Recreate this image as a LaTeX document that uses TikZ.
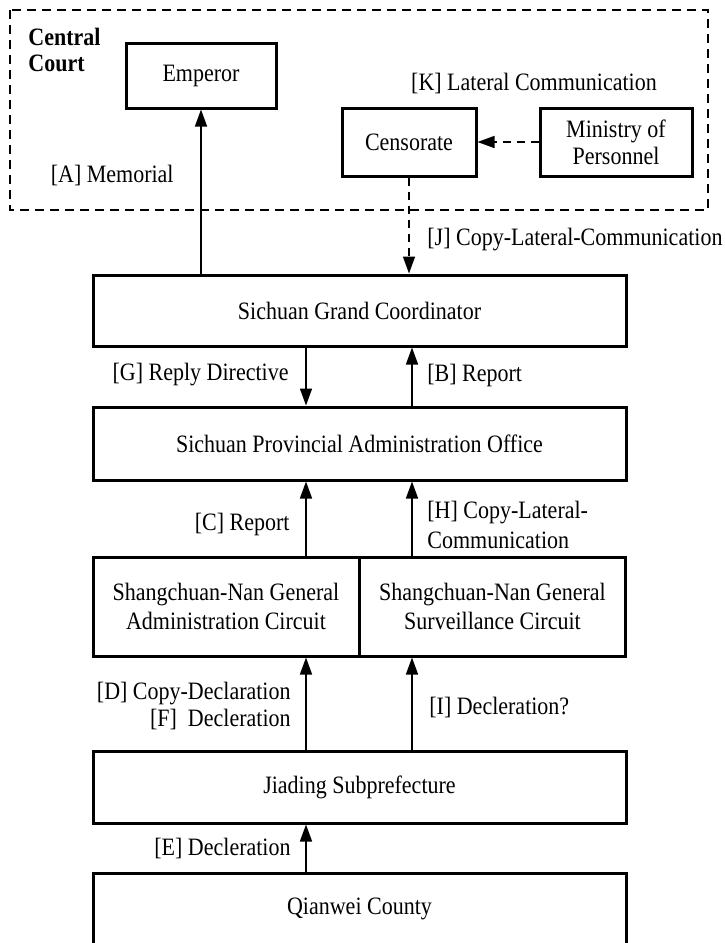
\documentclass[tikz,border=0pt]{standalone}
\usepackage{fontspec}
\setmainfont{Liberation Serif}[FakeStretch=0.88]
\usetikzlibrary{arrows.meta}

\begin{document}
\begin{tikzpicture}[x=0.5pt,y=-0.5pt,
    font=\fontsize{12.5}{13.5}\selectfont,
    office/.style={draw,line width=1.5pt,inner sep=0pt,align=center},
    wide/.style={office,minimum width=266.5pt,minimum height=36pt},
    circuit/.style={office,minimum width=133pt,minimum height=49.5pt,
        font=\fontsize{12.5}{14.5}\selectfont},
    flow/.style={line width=0.75pt,-{Triangle[length=8.5pt,width=6pt]}},
    lateral/.style={flow,dash pattern=on 4pt off 3pt},
    lbl/.style={inner sep=0pt}]

    \useasboundingbox (0,0) rectangle (724,943);

    % Central Court (dashed frame)
    \draw[line width=0.75pt,dash pattern=on 4.5pt off 3pt] (10,10) rectangle (708,210);
    \node[lbl,anchor=west,align=left,font=\fontsize{12.5}{13}\selectfont\bfseries] (court) at (28,50) {Central\\Court};

    \node[office,minimum width=75pt,minimum height=32.5pt] (emperor) at (201,75.5) {Emperor};
    \node[office,minimum width=67pt,minimum height=34pt] (censorate) at (409,142) {Censorate};
    \node[office,minimum width=76pt,minimum height=34pt] (ministry) at (616,142) {Ministry of\\Personnel};

    % Province down to county
    \node[wide,minimum height=35.5pt] (coord) at (359.5,310.5) {Sichuan Grand Coordinator};
    \node[wide,minimum height=36.5pt] (office) at (359.5,443.5) {Sichuan Provincial Administration Office};
    \node[circuit] (admin) at (226,606.5) {Shangchuan-Nan General\\Administration Circuit};
    \node[circuit] (surv) at (492.5,606.5) {Shangchuan-Nan General\\Surveillance Circuit};
    \node[wide] (jiading) at (359.5,787) {Jiading Subprefecture};
    \node[wide] (county) at (359.5,909) {Qianwei County};

    % columns of the vertical arrows
    \coordinate (lx) at (306,0);
    \coordinate (rx) at (412,0);

    \draw[flow] (coord.north -| emperor) -- (emperor.south);
    \draw[lateral] (ministry.west) -- (censorate.east);
    \draw[lateral] (censorate.south) -- (censorate.south |- coord.north);
    \draw[flow] (coord.south -| lx) -- (office.north -| lx);
    \draw[flow] (office.north -| rx) -- (coord.south -| rx);
    \draw[flow] (admin.north -| lx) -- (office.south -| lx);
    \draw[flow] (surv.north -| rx) -- (office.south -| rx);
    \draw[flow] (jiading.north -| lx) -- (admin.south -| lx);
    \draw[flow] (jiading.north -| rx) -- (surv.south -| rx);
    \draw[flow] (county.north -| lx) -- (jiading.south -| lx);

    % labels
    \node[lbl,anchor=east] (lblA) at (174,175) {[A] Memorial};
    \node[lbl] (lblK) at (534,83) {[K] Lateral Communication};
    \node[lbl,anchor=west] (lblJ) at (427,240) {[J] Copy-Lateral-Communication};
    \node[lbl,anchor=east] (lblG) at (289,375) {[G] Reply Directive};
    \node[lbl,anchor=west] (lblB) at (427,375) {[B] Report};
    \node[lbl,anchor=east] (lblC) at (290,524) {[C] Report};
    \node[lbl,anchor=west,align=left,font=\fontsize{12.5}{15}\selectfont] (lblH) at (427,525) {[H] Copy-Lateral-\\Communication};
    \node[lbl,anchor=east,align=right] (lblD) at (291,706) {[D] Copy-Declaration\\{}[F]\ \ Decleration};
    \node[lbl,anchor=west] (lblI) at (429,707) {[I] Decleration?};
    \node[lbl,anchor=east] (lblE) at (291,848) {[E] Decleration};

\end{tikzpicture}
\end{document}
